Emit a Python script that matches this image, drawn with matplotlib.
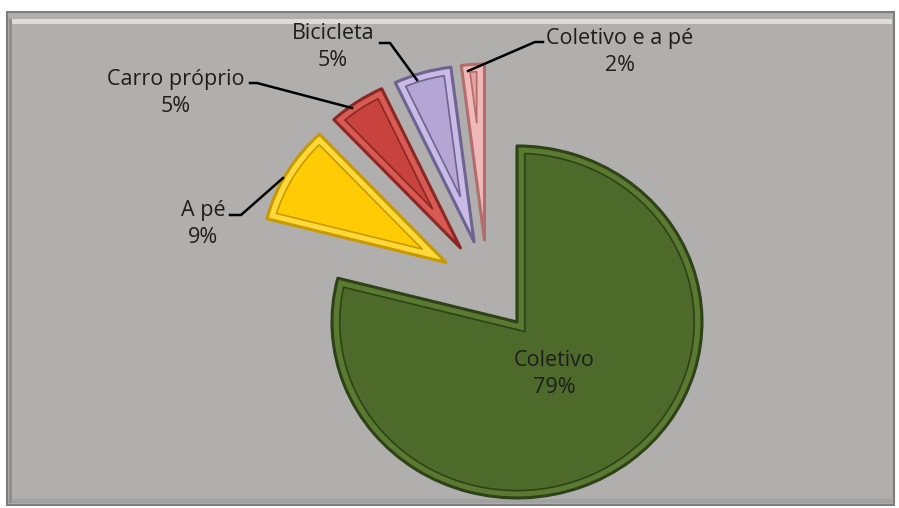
import matplotlib.pyplot as plt
from matplotlib.patches import Rectangle, Polygon
import numpy as np

# data
categories = ['Coletivo', 'A pé', 'Carro próprio', 'Bicicleta', 'Coletivo e a pé']
shares = [79, 9, 5, 5, 2]
labels = ['Coletivo\n79%', 'A pé\n9%', 'Carro próprio\n5%', 'Bicicleta\n5%', 'Coletivo e a pé\n2%']

face_colors = ['#4d6a2a', '#fecb05', '#c8423e', '#b3a6d4', '#e6a0a0']
band_colors = ['#5a7a32', '#ffd83a', '#d85a55', '#c8bce6', '#f0b8b8']
edge_colors = ['#2e4217', '#c99a00', '#8c2823', '#6e6391', '#b26d6d']

W, H = 899, 508
# pie geometry in pixels (centre, radius x/y)
cx, cy = 487.5, 285.8
rx, ry = 185, 176


def px(x, y):
    # figure pixel -> data coords
    return (x - cx) / rx, (cy - y) / ry


def inset_wedge(w, b):
    # wedge shape shrunk by b on every side (bevel face)
    t1, t2 = np.deg2rad(w.theta1), np.deg2rad(w.theta2)
    mid = (t1 + t2) / 2
    half = (t2 - t1) / 2
    ox, oy = w.center
    d = b / np.sin(half)
    apex = (ox + d * np.cos(mid), oy + d * np.sin(mid))
    ri = w.r - b
    da = np.arcsin(b / ri)
    phi = np.linspace(t1 + da, t2 - da, 200)
    pts = [apex] + list(zip(ox + ri * np.cos(phi), oy + ri * np.sin(phi)))
    return pts


fig = plt.figure(figsize=(W / 100, H / 100), dpi=100)
fig.patch.set_facecolor('white')

# bevelled grey panel, behind the axes
panel = [
    ((7, 3), 887, 493, '#b0afad', '#7d7d7d', 1.5),
    ((9, 484), 883, 5, '#dcdcdc', 'none', 0),
    ((9, 5), 883, 4, '#a2a2a2', 'none', 0),
    ((8.5, 5), 3, 484, '#8f8f8f', 'none', 0),
]
for (x0, y0), w, h, fc, ec, lw in panel:
    fig.patches.append(Rectangle((x0 / W, y0 / H), w / W, h / H, transform=fig.transFigure,
                                 facecolor=fc, edgecolor=ec, lw=lw, zorder=-5))

ax = fig.add_axes([0, 0, 1, 1])
ax.patch.set_visible(False)

wedges, _ = ax.pie(shares, startangle=90, counterclock=False, explode=[0.26] * len(shares),
                   colors=band_colors, radius=1,
                   wedgeprops=dict(linewidth=2.2, joinstyle='round'))
for w, fc, ec in zip(wedges, face_colors, edge_colors):
    w.set_edgecolor(ec)
    ax.add_patch(Polygon(inset_wedge(w, 0.042), closed=True, facecolor=fc,
                         edgecolor=ec, lw=1.2, joinstyle='round'))

ax.set_aspect('auto')
ax.set_xlim(px(0, 0)[0], px(W, 0)[0])
ax.set_ylim(px(0, H)[1], px(0, 0)[1])
ax.axis('off')

# labels (pixel positions of text centres)
label_pos = [(554, 374), (203, 224), (176, 93), (333, 47), (620, 52)]
for lab, (x, y) in zip(labels, label_pos):
    ax.text(*px(x, y), lab, ha='center', va='center', fontsize=15.5, family='Open Sans',
            color='#1e1e1e', linespacing=1.35)

# leader lines
leaders = [
    [(230, 215), (241, 215), (283, 178)],
    [(250, 83), (257, 83), (352, 108)],
    [(380, 43), (390, 43), (417, 80)],
    [(543, 42), (535, 42), (468, 71)],
]
for pts in leaders:
    xs, ys = zip(*[px(x, y) for x, y in pts])
    ax.plot(xs, ys, color='black', lw=1.8)

fig.savefig('out.png', dpi=100, facecolor=fig.get_facecolor())
